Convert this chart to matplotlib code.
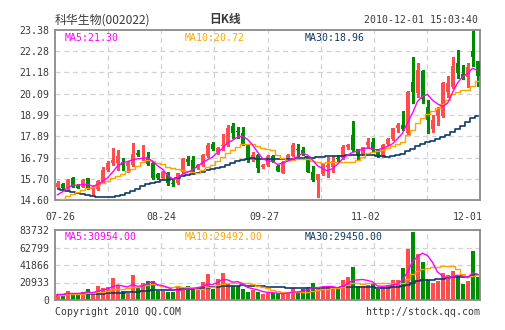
import matplotlib
matplotlib.use('Agg')
import matplotlib.pyplot as plt
import numpy as np
import pandas as pd

# daily candles 2010-07-26 .. 2010-12-01
opens = [15.29, 15.43, 15.15, 15.75, 15.37, 15.29, 15.72, 15.15, 15.15, 15.55,
         16.15, 16.50, 16.50, 16.58, 16.35, 16.40, 17.05, 16.95, 16.84, 16.50,
         15.93, 15.72, 15.98, 15.50, 15.50, 16.06, 16.70, 16.65, 16.23, 16.40,
         16.87, 17.47, 17.08, 17.38, 17.44, 18.42, 18.17, 18.04, 17.44, 16.67,
         16.92, 16.29, 16.39, 16.87, 16.37, 16.01, 16.70, 16.87, 17.20, 17.18,
         16.84, 16.06, 15.63, 15.94, 16.29, 16.29, 16.76, 16.75, 17.32, 17.96,
         17.22, 16.98, 17.44, 17.61, 17.22, 16.84, 17.49, 17.73, 18.30, 18.47,
         18.04, 20.71, 20.11, 21.28, 19.42, 18.27, 18.96, 18.96, 20.20, 20.42,
         21.69, 21.11, 20.97, 22.28, 21.76]
highs = [15.58, 15.50, 15.68, 15.77, 15.42, 15.68, 15.75, 15.30, 15.65, 16.30,
         16.60, 17.30, 17.20, 16.75, 16.60, 17.52, 17.20, 17.45, 17.10, 16.55,
         15.98, 16.10, 16.05, 15.63, 16.00, 16.75, 16.85, 16.87, 16.45, 16.95,
         17.56, 17.58, 17.35, 18.00, 18.45, 18.56, 18.38, 18.38, 17.50, 17.10,
         16.95, 16.45, 16.90, 16.92, 16.40, 16.60, 17.00, 17.52, 17.48, 17.35,
         16.87, 16.35, 15.94, 16.52, 16.84, 16.87, 16.92, 17.44, 17.50, 18.68,
         17.25, 17.35, 17.78, 17.78, 17.25, 17.47, 17.80, 18.32, 18.56, 19.20,
         20.25, 22.00, 21.66, 21.30, 19.76, 18.99, 19.42, 20.70, 21.00, 22.00,
         22.35, 21.57, 21.66, 23.38, 21.80]
lows = [15.20, 15.15, 15.10, 15.25, 15.20, 15.25, 15.18, 14.85, 15.10, 15.50,
        16.10, 16.40, 16.15, 16.15, 16.05, 16.35, 16.85, 16.65, 16.40, 15.70,
        15.70, 15.68, 15.37, 15.30, 15.45, 16.00, 16.40, 15.98, 16.20, 16.35,
        16.84, 17.18, 16.95, 17.20, 17.40, 17.78, 17.78, 17.44, 16.58, 16.60,
        16.06, 16.25, 16.35, 16.55, 16.08, 15.98, 16.65, 16.85, 16.87, 16.92,
        16.04, 15.60, 14.77, 15.90, 15.80, 16.06, 16.58, 16.70, 17.25, 17.15,
        16.67, 16.95, 17.27, 17.10, 16.84, 16.80, 17.45, 17.70, 18.10, 18.22,
        17.99, 19.59, 19.94, 19.59, 18.04, 18.13, 18.48, 18.90, 19.94, 20.37,
        20.88, 20.85, 20.45, 21.50, 20.49]
closes = [15.46, 15.20, 15.63, 15.29, 15.24, 15.63, 15.20, 15.25, 15.58, 16.15,
          16.53, 16.65, 16.85, 16.40, 16.50, 16.97, 16.92, 17.00, 16.45, 15.72,
          15.75, 16.06, 15.46, 15.45, 15.98, 16.70, 16.58, 16.06, 16.40, 16.92,
          17.44, 17.24, 17.30, 17.45, 18.34, 18.08, 18.10, 17.49, 16.66, 16.92,
          16.23, 16.41, 16.87, 16.58, 16.11, 16.55, 16.91, 17.44, 17.18, 17.02,
          16.06, 15.63, 15.94, 16.49, 16.41, 16.64, 16.74, 17.35, 17.42, 17.18,
          16.92, 17.32, 17.61, 17.18, 16.87, 17.44, 17.73, 18.30, 18.47, 18.27,
          20.20, 20.20, 21.31, 19.80, 18.73, 18.73, 19.25, 20.63, 20.63, 21.52,
          21.18, 20.88, 21.45, 21.97, 21.00]
volumes = [6680, 6680, 10300, 8680, 6680, 9480, 12670, 6680, 16650, 14660,
           15460, 25820, 17450, 10670, 8680, 29810, 15460, 19840, 22640, 22640,
           10670, 10670, 9480, 9480, 15460, 15460, 16260, 13460, 13460, 21440,
           30610, 13460, 25420, 31800, 19440, 16650, 16650, 13460, 9480, 11470,
           9880, 6690, 7880, 7880, 8680, 6690, 9280, 14300, 9280, 13460,
           15060, 20240, 15060, 15060, 15060, 15060, 13460, 24040, 27220, 38990,
           16260, 16260, 18250, 19050, 13460, 15060, 18250, 24430, 24480, 38190,
           61120, 80860, 54940, 44970, 24230, 20240, 23040, 32200, 30210, 34460,
           28220, 19050, 22240, 58240, 27020]

# sessions before 07-26 (not shown, only feed the moving averages; estimated)
early_close = [17.2, 17.1, 17.0, 16.9, 16.9, 16.9, 16.8, 16.8,
               16.7, 16.3, 15.8, 15.4,
               14.5, 13.9, 13.6, 13.5, 13.5, 13.6, 13.6, 13.7,
               14.1, 14.0, 14.2, 14.3, 14.4, 14.45, 14.6, 14.6, 15.25]
early_vol = [7500, 7000, 6500, 6800, 7200, 6600, 6000, 6400,
             6800, 7000, 7400, 7800,
             8000, 7000, 6500, 6000, 5800, 6200, 6000, 6400,
             5600, 5800, 6000, 5500, 6200, 6000, 6400, 6800, 7200]

date_labels = ['07-26', '08-24', '09-27', '11-02', '12-01']
price_ticks = ['14.60', '15.70', '16.79', '17.89', '18.99', '20.09', '21.18', '22.28', '23.38']
vol_ticks = ['0', '20933', '41866', '62799', '83732']

RED = '#ff4d4d'
GREEN = '#008c00'
C_MA5 = '#ff00ff'
C_MA10 = '#ffa500'
C_MA30 = '#0e3a68'
TXT = '#3a3a3a'
FRAME = '#8a8a8a'
GRID = '#d2d2d2'
MONO = 'DejaVu Sans Mono'
FS = 7.1

n = len(closes)
x = np.arange(n) + 0.5
cols = [RED if c >= o else GREEN for o, c in zip(opens, closes)]

close_all = pd.Series(early_close + closes)
vol_all = pd.Series(early_vol + volumes)
k = len(early_close)
ma = {p: close_all.rolling(p, min_periods=1).mean().values[k:] for p in (5, 10, 30)}
vma = {p: vol_all.rolling(p, min_periods=1).mean().values[k:] for p in (5, 10, 30)}

fig = plt.figure(figsize=(5.05, 3.30), dpi=100)
ax = fig.add_axes([55 / 505, 1 - 200 / 330, 425 / 505, 170 / 330])
axv = fig.add_axes([55 / 505, 1 - 300 / 330, 425 / 505, 70 / 330])

def frame(a):
    for s in a.spines.values():
        s.set_color(FRAME)
        s.set_linewidth(1.3)
    a.set_xlim(0, n)
    a.set_xticks([])
    a.tick_params(axis='y', length=0, pad=4, labelsize=FS, labelcolor=TXT)
    for lab in a.get_yticklabels():
        lab.set_fontfamily(MONO)
    for i in range(1, 8):
        a.axvline(n * i / 8, color=GRID, lw=0.9, ls=(0, (4, 3)), zorder=0)

# price panel
ax.set_ylim(14.60, 23.38)
pvals = np.linspace(14.60, 23.38, 9)
ax.set_yticks(pvals, price_ticks)
for v in pvals[1:-1]:
    ax.axhline(v, color=GRID, lw=0.9, ls=(0, (4, 3)), zorder=0)
frame(ax)

ax.vlines(x, lows, highs, colors=cols, lw=1.0, zorder=2, antialiased=False)
body = [max(abs(c - o), 0.05) for o, c in zip(opens, closes)]
ax.bar(x, body, bottom=np.minimum(opens, closes), width=0.8, color=cols, linewidth=0,
       zorder=3, antialiased=False)

ax.plot(x, ma[30], color=C_MA30, lw=1.2, drawstyle='steps-mid', zorder=4)
ax.plot(x, ma[10], color=C_MA10, lw=1.0, drawstyle='steps-mid', zorder=4)
ax.plot(x, ma[5], color=C_MA5, lw=1.0, zorder=4)

ax.text(10 / 425, 1 - 3 / 170, 'MA5:%.2f' % ma[5][-1], transform=ax.transAxes, color=C_MA5,
        fontsize=FS, family=MONO, va='top')
ax.text(130 / 425, 1 - 3 / 170, 'MA10:%.2f' % ma[10][-1], transform=ax.transAxes, color=C_MA10,
        fontsize=FS, family=MONO, va='top')
ax.text(250 / 425, 1 - 3 / 170, 'MA30:%.2f' % ma[30][-1], transform=ax.transAxes, color=C_MA30,
        fontsize=FS, family=MONO, va='top')

# date labels under the price panel
label_pos = [1.0, 21.2, 41.8, 62.2, 82.6]
for xp, lab in zip(label_pos, date_labels):
    ax.text(xp, -16.7 / 170, lab, transform=ax.get_xaxis_transform(), ha='center', va='center',
            fontsize=FS, family=MONO, color=TXT)

# volume panel
axv.set_ylim(0, 83732)
vvals = np.linspace(0, 83732, 5)
axv.set_yticks(vvals, vol_ticks)
for v in vvals[1:-1]:
    axv.axhline(v, color=GRID, lw=0.9, ls=(0, (4, 3)), zorder=0)
frame(axv)

axv.bar(x, volumes, width=0.8, color=cols, linewidth=0, zorder=2, antialiased=False)
axv.plot(x, vma[30], color=C_MA30, lw=1.2, drawstyle='steps-mid', zorder=4)
axv.plot(x, vma[10], color=C_MA10, lw=1.0, drawstyle='steps-mid', zorder=4)
axv.plot(x, vma[5], color=C_MA5, lw=1.0, zorder=4)

axv.text(10 / 425, 1 - 2 / 70, 'MA5:%.2f' % vma[5][-1], transform=axv.transAxes, color=C_MA5,
         fontsize=FS, family=MONO, va='top')
axv.text(130 / 425, 1 - 2 / 70, 'MA10:%.2f' % vma[10][-1], transform=axv.transAxes, color=C_MA10,
         fontsize=FS, family=MONO, va='top')
axv.text(250 / 425, 1 - 2 / 70, 'MA30:%.2f' % vma[30][-1], transform=axv.transAxes, color=C_MA30,
         fontsize=FS, family=MONO, va='top')

# header and footer
fig.text(55 / 505, 1 - 20 / 330, '科华生物(002022)', family=['Noto Sans CJK SC', 'DejaVu Sans'],
         fontsize=8.6, color=TXT, va='center', ha='left')
fig.text(225 / 505, 1 - 20 / 330, '日K线', family=['Noto Sans CJK SC', 'DejaVu Sans'],
         fontsize=8.5, fontweight='bold', color=TXT, va='center', ha='center')
fig.text(478 / 505, 1 - 20 / 330, '2010-12-01 15:03:40', family=MONO, fontsize=FS, color=TXT,
         va='center', ha='right')
fig.text(55 / 505, 1 - 312 / 330, 'Copyright 2010 QQ.COM', family=MONO, fontsize=FS, color=TXT,
         va='center', ha='left')
fig.text(480 / 505, 1 - 312 / 330, 'http://stock.qq.com', family=MONO, fontsize=FS, color=TXT,
         va='center', ha='right')

fig.savefig('out.png', dpi=100)
